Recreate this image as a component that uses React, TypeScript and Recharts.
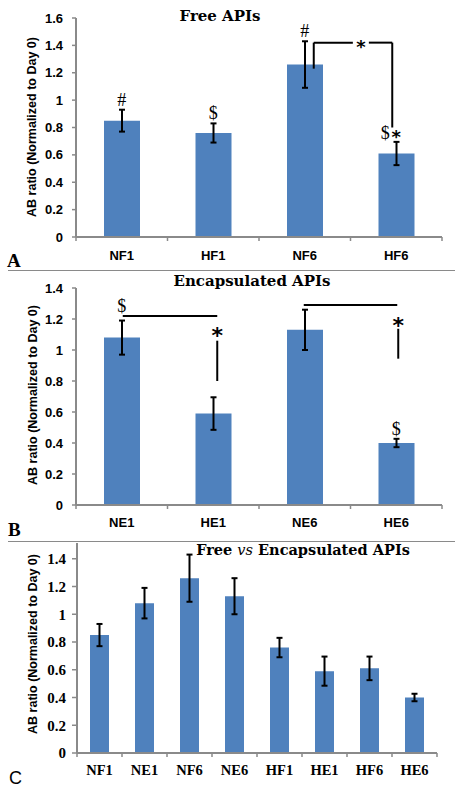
import React from "react";
import { BarChart, Bar, XAxis, YAxis, ErrorBar, ReferenceLine, ReferenceDot } from "recharts";

// Panel A – free APIs
const freeGroups = ["NF1", "HF1", "NF6", "HF6"];
const freeMeans = [0.85, 0.76, 1.26, 0.61];
const freeSems = [0.08, 0.07, 0.17, 0.085];
const freeMarks = ["#", "$", "#", "$"];

// Panel B – encapsulated APIs
const encGroups = ["NE1", "HE1", "NE6", "HE6"];
const encMeans = [1.08, 0.59, 1.13, 0.4];
const encSems = [0.11, 0.105, 0.13, 0.027];
const encMarks = ["$", "", "", "$"];

// Panel C – everything side by side
const allGroups = ["NF1", "NE1", "NF6", "NE6", "HF1", "HE1", "HF6", "HE6"];
const allMeans = [0.85, 1.08, 1.26, 1.13, 0.76, 0.59, 0.61, 0.4];
const allSems = [0.08, 0.11, 0.17, 0.13, 0.07, 0.105, 0.085, 0.027];

const ticksA = [0, 0.2, 0.4, 0.6, 0.8, 1, 1.2, 1.4, 1.6];
const ticksBC = [0, 0.2, 0.4, 0.6, 0.8, 1, 1.2, 1.4];

const BLUE = "#4F81BD";
const AXIS = "#8a8a8a";
const SANS = "'Liberation Sans', Arial, sans-serif";
const SERIF = "'Liberation Serif', 'Times New Roman', serif";
const TITLE = "'DejaVu Serif', serif";
const Y_LABEL = "AB ratio (Normalized to Day 0)";

const toRows = (groups: string[], means: number[], sems: number[]) =>
  groups.map((g, i) => ({ group: g, mean: means[i], sem: sems[i] }));

const axisLine = { stroke: AXIS, strokeWidth: 2 };

// category tick with excel-style marks between the categories
function CatTick(props: any) {
  const { x, y, payload, index, visibleTicksCount, font, size, dy } = props;
  const half = payload?.offset ?? 0;
  const last = index === visibleTicksCount - 1;
  return (
    <g>
      {half > 0 && <line x1={x - half} x2={x - half} y1={y} y2={y + 4} stroke={AXIS} strokeWidth={1.5} />}
      {half > 0 && last && <line x1={x + half} x2={x + half} y1={y} y2={y + 4} stroke={AXIS} strokeWidth={1.5} />}
      <text x={x} y={y + dy} textAnchor="middle" fontFamily={font} fontSize={size} fontWeight="bold" fill="#000">
        {payload.value}
      </text>
    </g>
  );
}

const Star = ({ x, y, size = 20 }: { x: number; y: number; size?: number }) => (
  <text x={x} y={y + size * 0.585} textAnchor="middle" fontFamily="'DejaVu Sans', sans-serif" fontWeight="bold" fontSize={size} fill="#000">
    *
  </text>
);

const markShape = (text: string, gap: number, dx = 0) => (p: any) => (
  <text x={p.cx + dx} y={p.cy - gap} textAnchor="middle" fontFamily={SERIF} fontSize={18} fill="#000">
    {text}
  </text>
);

const starShape = (dx = 0, dy = 0, size = 20) => (p: any) => <Star x={p.cx + dx} y={p.cy + dy} size={size} />;

const seg = (dx1: number, dx2: number) => (p: any) => (
  <line x1={p.x1 + dx1} y1={p.y1} x2={p.x2 + dx2} y2={p.y2} stroke="#000" strokeWidth={2} />
);

// horizontal bracket with a star sitting in a gap of the line
const starredSeg = (dx1: number, dx2: number, at: number) => (p: any) => {
  const a = p.x1 + dx1;
  const b = p.x2 + dx2;
  const m = a + (b - a) * at;
  return (
    <g>
      <line x1={a} y1={p.y1} x2={m - 8} y2={p.y2} stroke="#000" strokeWidth={2} />
      <line x1={m + 8} y1={p.y1} x2={b} y2={p.y2} stroke="#000" strokeWidth={2} />
      <Star x={m} y={p.y1} size={18} />
    </g>
  );
};

function YTitle({ left, top }: { left: number; top: number }) {
  return (
    <div
      style={{
        position: "absolute",
        left,
        top,
        transform: "translate(-50%, -50%) rotate(-90deg)",
        whiteSpace: "nowrap",
        fontFamily: SANS,
        fontWeight: "bold",
        fontSize: 12.5,
        color: "#000",
      }}
    >
      {Y_LABEL}
    </div>
  );
}

const abs = (left: number, top: number): React.CSSProperties => ({ position: "absolute", left, top });

export default function App() {
  const freeRows = toRows(freeGroups, freeMeans, freeSems);
  const encRows = toRows(encGroups, encMeans, encSems);
  const allRows = toRows(allGroups, allMeans, allSems);

  const sansTick = { fontFamily: SANS, fontSize: 13, fontWeight: "bold", fill: "#000" };
  const serifTick = { fontFamily: SERIF, fontSize: 15, fontWeight: "bold", fill: "#000" };
  const titleStyle: React.CSSProperties = { fontFamily: TITLE, fontWeight: "bold", fontSize: 15, whiteSpace: "nowrap", transform: "translateX(-50%)" };

  return (
    <div style={{ position: "absolute", left: 0, top: 0, width: 459, height: 794, background: "#fff", overflow: "hidden" }}>
      {/* A */}
      <div style={abs(0, 0)}>
        <BarChart width={459} height={270} data={freeRows} margin={{ top: 18, right: 17, bottom: 0, left: 0 }}>
          <XAxis dataKey="group" height={33} interval={0} axisLine={axisLine} tickLine={false} tickSize={0} tickMargin={0}
            tick={<CatTick font={SANS} size={13} dy={23} />} />
          <YAxis width={76} domain={[0, 1.6]} ticks={ticksA} axisLine={axisLine} tickLine={{ stroke: AXIS, strokeWidth: 1.5 }}
            tickSize={4} tickMargin={9} tick={sansTick} />
          <Bar dataKey="mean" fill={BLUE} barSize={36} isAnimationActive={false}>
            <ErrorBar dataKey="sem" width={3} stroke="#000" strokeWidth={2} direction="y" />
          </Bar>
          <ReferenceDot x="NF1" y={freeMeans[0] + freeSems[0]} r={1} shape={markShape(freeMarks[0], 4)} />
          <ReferenceDot x="HF1" y={freeMeans[1] + freeSems[1]} r={1} shape={markShape(freeMarks[1], 4)} />
          <ReferenceDot x="NF6" y={freeMeans[2] + freeSems[2]} r={1} shape={markShape(freeMarks[2], 4)} />
          <ReferenceDot x="HF6" y={freeMeans[3] + freeSems[3]} r={1} shape={markShape(freeMarks[3], 3, -11)} />
          <ReferenceDot x="HF6" y={freeMeans[3] + freeSems[3]} r={1} shape={starShape(0, -9, 18)} />
          <ReferenceLine ifOverflow="visible" segment={[{ x: "NF6", y: 1.23 }, { x: "NF6", y: 1.42 }]} shape={seg(9, 9)} />
          <ReferenceLine ifOverflow="visible" segment={[{ x: "NF6", y: 1.42 }, { x: "HF6", y: 1.42 }]} shape={starredSeg(9, -4, 0.6)} />
          <ReferenceLine ifOverflow="visible" segment={[{ x: "HF6", y: 1.42 }, { x: "HF6", y: 0.8 }]} shape={seg(-4, -4)} />
        </BarChart>
      </div>
      <div style={{ ...abs(220, 7), ...titleStyle }}>Free APIs</div>
      <YTitle left={32} top={127} />
      <div style={{ ...abs(7, 250), fontFamily: SERIF, fontWeight: "bold", fontSize: 19 }}>A</div>
      <div style={{ ...abs(8, 270), width: 447, height: 1, background: "#8a8a8a" }} />

      {/* B */}
      <div style={abs(0, 271)}>
        <BarChart width={459} height={265} data={encRows} margin={{ top: 17, right: 17, bottom: 0, left: 0 }}>
          <XAxis dataKey="group" height={31} interval={0} axisLine={axisLine} tickLine={false} tickSize={0} tickMargin={0}
            tick={<CatTick font={SANS} size={13} dy={22} />} />
          <YAxis width={76} domain={[0, 1.4]} ticks={ticksBC} axisLine={axisLine} tickLine={{ stroke: AXIS, strokeWidth: 1.5 }}
            tickSize={4} tickMargin={9} tick={sansTick} />
          <Bar dataKey="mean" fill={BLUE} barSize={36} isAnimationActive={false}>
            <ErrorBar dataKey="sem" width={3} stroke="#000" strokeWidth={2} direction="y" />
          </Bar>
          <ReferenceDot x="NE1" y={encMeans[0] + encSems[0]} r={1} shape={markShape(encMarks[0], 9)} />
          <ReferenceDot x="HE6" y={encMeans[3] + encSems[3]} r={1} shape={markShape(encMarks[3], 4)} />
          <ReferenceLine ifOverflow="visible" segment={[{ x: "NE1", y: 1.22 }, { x: "HE1", y: 1.22 }]} shape={seg(1, 4)} />
          <ReferenceLine ifOverflow="visible" segment={[{ x: "HE1", y: 1.06 }, { x: "HE1", y: 0.8 }]} shape={seg(4, 4)} />
          <ReferenceDot x="HE1" y={1.13} r={1} shape={starShape(4, 0, 22)} />
          <ReferenceLine ifOverflow="visible" segment={[{ x: "NE6", y: 1.29 }, { x: "HE6", y: 1.29 }]} shape={seg(-1, 1)} />
          <ReferenceLine ifOverflow="visible" segment={[{ x: "HE6", y: 1.137 }, { x: "HE6", y: 0.944 }]} shape={seg(2, 2)} />
          <ReferenceDot x="HE6" y={1.195} r={1} shape={starShape(2, 0, 22)} />
        </BarChart>
      </div>
      <div style={{ ...abs(252, 272), ...titleStyle }}>Encapsulated APIs</div>
      <YTitle left={33} top={395} />
      <div style={{ ...abs(8, 519), fontFamily: SERIF, fontWeight: "bold", fontSize: 19 }}>B</div>
      <div style={{ ...abs(8, 541), width: 447, height: 1, background: "#8a8a8a" }} />

      {/* C – top of the plot is cut off by the separator */}
      <div style={{ ...abs(0, 543), width: 459, height: 251, overflow: "hidden" }}>
        <div style={abs(0, -12)}>
          <BarChart width={459} height={253} data={allRows} margin={{ top: 0, right: 22, bottom: 0, left: 0 }}>
            <XAxis dataKey="group" height={31} interval={0} axisLine={axisLine} tickLine={false} tickSize={0} tickMargin={0}
              tick={<CatTick font={SERIF} size={14.5} dy={22} />} />
            <YAxis width={77} domain={[0, 1.6]} ticks={ticksBC} axisLine={axisLine} tickLine={{ stroke: AXIS, strokeWidth: 1.5 }}
              tickSize={5} tickMargin={6} tick={serifTick} />
            <Bar dataKey="mean" fill={BLUE} barSize={19} isAnimationActive={false}>
              <ErrorBar dataKey="sem" width={3} stroke="#000" strokeWidth={2} direction="y" />
            </Bar>
          </BarChart>
        </div>
      </div>
      <div style={{ ...abs(303, 541), ...titleStyle, fontSize: 14.5 }}>
        Free <span style={{ fontStyle: "italic", fontWeight: "normal" }}>vs</span> Encapsulated APIs
      </div>
      <YTitle left={33} top={644} />
      <div style={{ ...abs(9, 768), fontFamily: SANS, fontSize: 18 }}>C</div>
    </div>
  );
}
